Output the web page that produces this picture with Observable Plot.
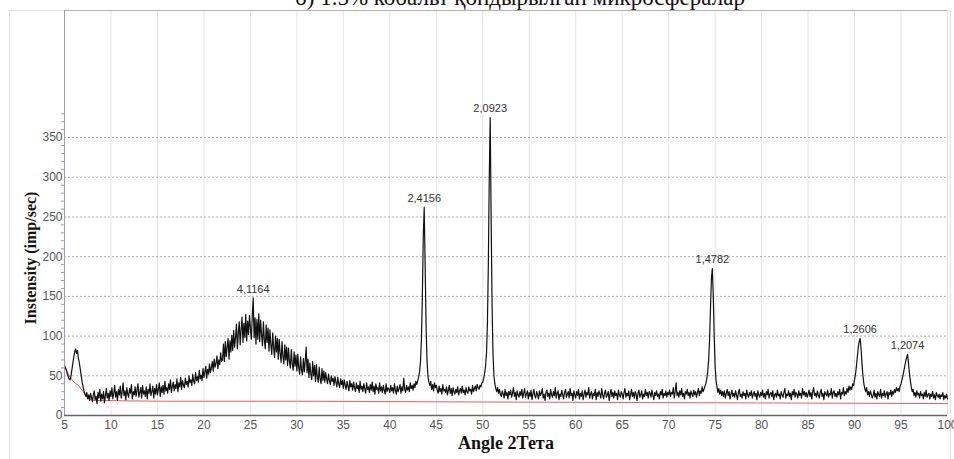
<!DOCTYPE html>
<html>
<head>
<meta charset="utf-8">
<script src="https://cdn.jsdelivr.net/npm/d3@7"></script>
<script src="https://cdn.jsdelivr.net/npm/@observablehq/plot@0.6"></script>
<style>
  body { margin: 0; background: #fff; }
  #wrap { position: relative; width: 954px; height: 459px; overflow: hidden; }
  #frame { position: absolute; left: 9px; top: 10px; width: 942px; height: 470px; border: 1px solid #e2e2e2; box-sizing: border-box; }
  #title { position: absolute; left: 0; width: 1040px; top: -15px; text-align: center; font-family: "Liberation Serif", "Times New Roman", serif; font-size: 23px; color: #111; white-space: nowrap; }
  #chart { position: absolute; left: 0; top: 0; }
</style>
</head>
<body>
<div id="wrap">
  <div id="frame"></div>
  <div id="chart"></div>
  <div id="title">б) 1.5% кобальт қондырылған микросфералар</div>
</div>
<script>
// ---- Data ----
const angleStart = 5;     // 2θ of first sample
const angleStep = 0.1;    // sampling step (deg)
const intensity = [
  // 5.0 – 9.9
  63, 60, 57, 52, 49, 46, 45, 50, 58, 66,
  74, 80, 84, 78, 82, 72, 66, 58, 50, 42,
  36, 31, 27, 24, 29, 21, 26, 19, 28, 23,
  17, 26, 31, 20, 24, 15, 29, 22, 33, 18,
  27, 21, 30, 16, 25, 34, 22, 28, 19, 31,
  // 10.0 – 14.9
  24, 35, 21, 28, 38, 23, 30, 19, 33, 26,
  37, 22, 29, 41, 25, 31, 20, 35, 27, 23,
  34, 28, 39, 21, 30, 26, 36, 24, 32, 40,
  23, 29, 35, 22, 38, 27, 31, 24, 36, 21,
  33, 28, 40, 25, 30, 37, 22, 34, 27, 39,
  // 15.0 – 19.9
  26, 33, 41, 24, 36, 29, 38, 27, 43, 31,
  35, 28, 40, 33, 45, 29, 37, 42, 31, 39,
  34, 46, 30, 41, 36, 48, 33, 44, 38, 35,
  47, 39, 43, 36, 50, 41, 45, 38, 52, 43,
  40, 54, 44, 49, 42, 57, 46, 51, 44, 59,
  // 20.0 – 24.9
  48, 55, 62, 47, 58, 52, 65, 54, 60, 68,
  56, 71, 61, 66, 75, 59, 70, 64, 79, 68,
  70, 90, 68, 93, 74, 86, 97, 71, 94, 80,
  101, 82, 107, 86, 98, 115, 84, 104, 118, 89,
  108, 124, 92, 116, 98, 127, 94, 119, 102, 126,
  // 25.0 – 29.9
  110, 96, 125, 148, 98, 123, 90, 121, 96, 128,
  93, 120, 102, 88, 118, 95, 84, 114, 92, 110,
  81, 108, 89, 77, 104, 85, 73, 100, 80, 97,
  71, 96, 78, 67, 93, 74, 65, 89, 70, 86,
  63, 85, 68, 60, 83, 65, 57, 80, 62, 76,
  // 30.0 – 34.9
  56, 77, 60, 52, 74, 57, 51, 72, 55, 68,
  86, 54, 71, 48, 66, 52, 45, 68, 50, 63,
  43, 64, 48, 42, 61, 46, 40, 59, 44, 56,
  42, 54, 46, 40, 52, 44, 39, 50, 43, 47,
  38, 49, 42, 36, 48, 40, 35, 46, 39, 44,
  // 35.0 – 39.9
  34, 45, 38, 33, 43, 37, 31, 44, 36, 40,
  32, 42, 35, 30, 41, 34, 38, 29, 43, 33,
  37, 30, 40, 34, 28, 41, 33, 36, 29, 39,
  32, 42, 30, 37, 27, 40, 33, 35, 28, 41,
  31, 36, 29, 38, 32, 27, 40, 30, 35, 33,
  // 40.0 – 44.9
  29, 38, 31, 35, 28, 40, 32, 27, 37, 30,
  34, 39, 28, 36, 31, 47, 33, 29, 38, 32,
  36, 30, 41, 34, 38, 32, 40, 35, 43, 39,
  44, 48, 55, 68, 95, 150, 225, 262, 190, 115,
  70, 50, 42, 38, 43, 33, 39, 31, 41, 35,
  // 45.0 – 49.9
  38, 32, 28, 37, 30, 34, 27, 39, 31, 33,
  29, 36, 26, 32, 38, 28, 34, 25, 35, 30,
  27, 33, 29, 36, 26, 31, 34, 28, 37, 29,
  32, 26, 35, 30, 28, 36, 31, 33, 27, 38,
  30, 34, 37, 31, 39, 35, 33, 38, 36, 41,
  // 50.0 – 54.9
  42, 47, 53, 62, 78, 115, 190, 300, 375, 250,
  140, 78, 50, 40, 34, 30, 35, 28, 33, 26,
  24, 31, 27, 22, 33, 25, 29, 21, 30, 26,
  32, 23, 28, 35, 24, 29, 20, 31, 26, 23,
  30, 25, 33, 22, 28, 34, 23, 27, 31, 21,
  // 55.0 – 59.9
  29, 24, 32, 20, 27, 33, 25, 22, 30, 26,
  21, 31, 25, 28, 34, 22, 27, 19, 29, 32,
  24, 28, 21, 33, 26, 23, 30, 25, 35, 22,
  28, 31, 20, 27, 24, 32, 26, 21, 29, 33,
  23, 27, 30, 22, 34, 25, 28, 19, 31, 26,
  // 60.0 – 64.9
  22, 30, 25, 33, 21, 28, 24, 31, 20, 27,
  32, 23, 29, 26, 35, 22, 27, 30, 21, 28,
  25, 33, 20, 29, 24, 31, 27, 22, 34, 26,
  21, 28, 32, 23, 26, 30, 19, 27, 33, 24,
  29, 22, 31, 25, 28, 20, 32, 26, 23, 30,
  // 65.0 – 69.9
  27, 21, 29, 34, 23, 28, 25, 31, 20, 26,
  33, 24, 29, 22, 30, 27, 19, 28, 32, 23,
  26, 31, 21, 27, 24, 33, 25, 29, 22, 30,
  28, 23, 32, 26, 20, 29, 25, 31, 24, 27,
  21, 30, 26, 33, 22, 28, 25, 31, 23, 29,
  // 70.0 – 74.9
  26, 32, 24, 29, 27, 35, 22, 30, 41, 25,
  29, 23, 31, 26, 34, 24, 28, 21, 30, 27,
  33, 25, 29, 22, 31, 27, 24, 32, 26, 30,
  23, 29, 34, 25, 31, 28, 36, 30, 33, 37,
  40, 46, 55, 70, 95, 135, 172, 185, 150, 100,
  // 75.0 – 79.9
  62, 44, 36, 29, 34, 27, 32, 25, 30, 24,
  31, 22, 28, 33, 25, 30, 21, 27, 32, 24,
  28, 23, 31, 26, 20, 29, 33, 24, 27, 22,
  30, 25, 28, 21, 32, 26, 23, 29, 25, 31,
  22, 27, 30, 24, 28, 20, 31, 26, 23, 29,
  // 80.0 – 84.9
  25, 32, 23, 28, 21, 30, 26, 33, 22, 27,
  29, 24, 31, 20, 26, 28, 23, 32, 25, 27,
  21, 30, 26, 23, 29, 34, 22, 27, 25, 31,
  24, 28, 20, 30, 26, 33, 23, 29, 27, 22,
  31, 25, 28, 22, 34, 26, 30, 24, 29, 23,
  // 85.0 – 89.9
  27, 32, 24, 29, 21, 30, 35, 25, 28, 23,
  31, 26, 22, 29, 33, 24, 28, 20, 30, 27,
  25, 32, 23, 28, 26, 34, 22, 29, 31, 24,
  28, 23, 30, 26, 33, 21, 29, 27, 35, 25,
  30, 27, 34, 29, 37, 32, 36, 33, 40, 38,
  // 90.0 – 94.9
  45, 52, 62, 74, 86, 93, 97, 84, 66, 50,
  40, 34, 30, 35, 26, 30, 24, 31, 27, 22,
  25, 32, 23, 28, 21, 30, 26, 24, 33, 22,
  28, 25, 31, 23, 27, 30, 21, 29, 26, 32,
  24, 30, 27, 33, 29, 35, 31, 34, 30, 37,
  // 95.0 – 99.9
  40, 45, 50, 56, 62, 68, 73, 77, 66, 54,
  44, 36, 30, 33, 25, 29, 23, 31, 26, 28,
  22, 30, 25, 27, 21, 29, 24, 32, 23, 26,
  28, 21, 27, 24, 30, 22, 26, 20, 29, 25,
  23, 27, 21, 26, 24, 29, 20, 25, 22, 27,
  // 100.0
  21
];

const baselineAngle = [5, 5.5, 6, 6.5, 7, 7.5, 8, 15, 30, 50, 75, 100];
const baselineValue = [63, 50, 42, 38, 30, 22, 19, 18, 18, 17, 16, 15];

const peakAngle = [25.3, 43.7, 50.8, 74.7, 90.6, 95.7];
const peakTop   = [148, 262, 375, 185, 97, 77];
const peakLabel = ["4,1164", "2,4156", "2,0923", "1,4782", "1,2606", "1,2074"];

const xTicks = [5, 10, 15, 20, 25, 30, 35, 40, 45, 50, 55, 60, 65, 70, 75, 80, 85, 90, 95, 100];
const yTicks = [0, 50, 100, 150, 200, 250, 300, 350];
const yGrid  = [50, 100, 150, 200, 250, 300, 350];
const yMinor = [10, 20, 30, 40, 60, 70, 80, 90, 110, 120, 130, 140, 160, 170, 180, 190, 210, 220, 230, 240, 260, 270, 280, 290, 310, 320, 330, 340, 360, 370, 380];

const xTitle = "Angle 2Тета";
const yTitle = "Instensity (imp/sec)";

// ---- Build tables ----
const pattern = intensity.map((v, i) => ({ angle: +(angleStart + angleStep * i).toFixed(2), v }));
const baseline = baselineAngle.map((a, i) => ({ angle: a, v: baselineValue[i] }));
const peaks = peakAngle.map((a, i) => ({ angle: a, v: peakTop[i], label: peakLabel[i] }));

const chart = Plot.plot({
  width: 954,
  height: 459,
  marginLeft: 64,
  marginRight: 7,
  marginTop: 10,
  marginBottom: 44,
  style: { fontFamily: "'Liberation Sans', Arial, sans-serif", fontSize: "11px", color: "#555", background: "transparent" },
  x: { domain: [5, 100], label: null },
  y: { domain: [0, 510], label: null },
  marks: [
    Plot.ruleX(xTicks, { stroke: "#e4e4e4", strokeWidth: 1 }),
    Plot.ruleY(yGrid, { stroke: "#9a9a9a", strokeDasharray: "2,2", strokeWidth: 0.8 }),
    Plot.ruleY([510], { stroke: "#b0b0b0", strokeWidth: 1 }),
    Plot.line(baseline, { x: "angle", y: "v", stroke: "#e8605a", strokeWidth: 1 }),
    Plot.line(pattern, { x: "angle", y: "v", stroke: "#111", strokeWidth: 1.2 }),
    Plot.text(peaks, { x: "angle", y: "v", text: "label", dy: -9, fill: "#333", fontSize: 11 }),
    Plot.axisY(yMinor, { tickSize: 3, tickPadding: 0, text: null, label: null, stroke: "#b090b8" }),
    Plot.axisX({ ticks: xTicks, tickSize: 0, tickPadding: 5, label: null, fontSize: 12, fill: "#555" }),
    Plot.axisY({ ticks: yTicks, tickSize: 0, tickPadding: 2, label: null, fontSize: 12, fill: "#555" }),
    Plot.ruleX([5], { stroke: "#a89ab0", strokeWidth: 1 }),
    Plot.ruleY([0], { stroke: "#666", strokeWidth: 1.5 }),
    Plot.text([xTitle], { frameAnchor: "bottom", dy: 33, fontFamily: "'Liberation Serif', 'Times New Roman', serif", fontWeight: "bold", fontSize: 18, fill: "#111" }),
    Plot.text([yTitle], { frameAnchor: "left", textAnchor: "middle", rotate: -90, dx: -34, dy: 45, fontFamily: "'Liberation Serif', 'Times New Roman', serif", fontWeight: "bold", fontSize: 16, fill: "#111" })
  ]
});
document.getElementById("chart").appendChild(chart);
</script>
</body>
</html>
